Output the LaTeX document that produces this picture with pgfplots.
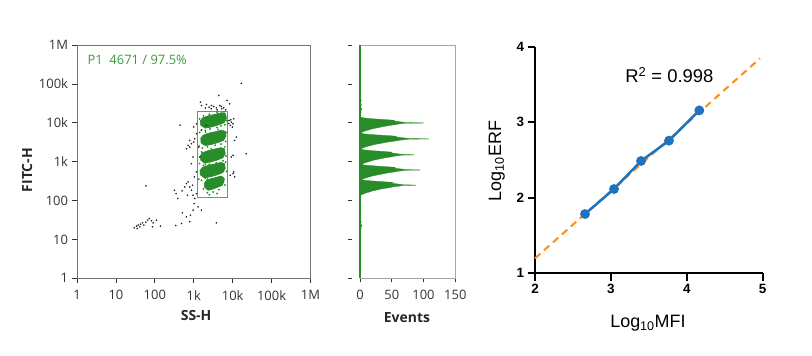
\documentclass[border=0pt]{standalone}
\usepackage{fontspec}
\usepackage{pgfplots}
\pgfplotsset{compat=1.18}
\setmainfont{Open Sans}
\newfontfamily\osans{Open Sans}
\newfontfamily\arial{Liberation Sans}
\definecolor{fcgreen}{RGB}{40,140,40}
\definecolor{gatecol}{RGB}{80,170,80}
\definecolor{ptxt}{RGB}{60,155,60}
\definecolor{lblue}{RGB}{31,114,190}
\definecolor{lorange}{RGB}{255,140,26}
\begin{document}
\begin{tikzpicture}
\path[use as bounding box] (0,0) rectangle (812bp,-356bp);
% ---------------- scatter panel ----------------
\begin{axis}[
  at={(77bp,-278.3bp)}, anchor=south west, scale only axis,
  width=233.5bp, height=233.3bp,
  xmin=0, xmax=6, ymin=0, ymax=6,
  xtick={0,1,2,3,4,5,6}, ytick={0,1,2,3,4,5,6},
  xticklabels={1,10,100,1k,10k,100k,1M},
  yticklabels={1,10,100,1k,10k,100k,1M},
  tick align=outside, tick pos=left, major tick length=4.5bp,
  axis line style={black!55, line width=0.8bp},
  tick style={black!80, line width=0.7bp},
  ticklabel style={font=\osans\fontsize{13}{13}\selectfont, text=black!80},
  xticklabel style={yshift=-4bp},
  yticklabel style={xshift=-1bp},
  xlabel={SS-H}, ylabel={FITC-H},
  label style={font=\osans\bfseries\fontsize{14}{14}\selectfont, text=black!85},
  xlabel style={at={(axis description cs:0.51,-0.1616)}, anchor=center},
  ylabel style={at={(axis description cs:-0.214,0.464)}, anchor=center},
  clip=false,
]
% green blobs (dense gated events)
\addplot[fill=fcgreen, draw=fcgreen, line width=0.6bp] coordinates {(3.18,3.93)(3.17,4.05)(3.23,4.13)(3.38,4.18)(3.55,4.22)(3.72,4.26)(3.82,4.23)(3.84,4.11)(3.78,4.00)(3.62,3.94)(3.45,3.89)(3.28,3.86)};
\addplot[fill=fcgreen, draw=fcgreen, line width=0.6bp] coordinates {(3.19,3.47)(3.18,3.60)(3.24,3.68)(3.38,3.73)(3.55,3.77)(3.71,3.81)(3.81,3.78)(3.83,3.66)(3.77,3.55)(3.62,3.49)(3.45,3.44)(3.28,3.41)};
\addplot[fill=fcgreen, draw=fcgreen, line width=0.6bp] coordinates {(3.18,3.03)(3.17,3.15)(3.22,3.23)(3.36,3.28)(3.53,3.32)(3.69,3.36)(3.79,3.33)(3.81,3.21)(3.75,3.10)(3.60,3.04)(3.43,2.99)(3.26,2.96)};
\addplot[fill=fcgreen, draw=fcgreen, line width=0.6bp] coordinates {(3.17,2.65)(3.16,2.77)(3.22,2.85)(3.36,2.90)(3.53,2.94)(3.69,2.98)(3.79,2.95)(3.81,2.83)(3.75,2.72)(3.60,2.66)(3.43,2.61)(3.26,2.58)};
\addplot[fill=fcgreen, draw=fcgreen, line width=0.6bp] coordinates {(3.28,2.33)(3.27,2.44)(3.32,2.51)(3.43,2.56)(3.56,2.59)(3.69,2.63)(3.76,2.60)(3.78,2.49)(3.73,2.39)(3.61,2.34)(3.48,2.29)(3.36,2.26)};
% green scattered events
\addplot[only marks, mark=*, mark size=0.7bp, fcgreen] coordinates {
(3.15,3.75)(3.20,3.82)(3.30,3.80)(3.42,3.84)(3.60,3.88)(3.70,3.92)(3.80,3.95)(3.85,4.05)(3.78,4.28)(3.60,4.27)(3.40,4.22)(3.25,4.18)(3.15,4.10)
(3.14,3.40)(3.22,3.35)(3.35,3.38)(3.55,3.42)(3.70,3.45)(3.82,3.52)(3.84,3.75)(3.62,3.83)(3.30,3.76)
(3.15,2.95)(3.25,2.90)(3.40,2.93)(3.58,2.97)(3.75,3.02)(3.83,3.15)(3.80,3.38)(3.45,3.33)(3.20,3.25)
(3.13,2.55)(3.20,2.52)(3.35,2.55)(3.55,2.57)(3.70,2.60)(3.84,2.75)(3.82,2.99)(3.30,2.93)
(3.25,2.30)(3.35,2.20)(3.50,2.22)(3.65,2.28)(3.80,2.40)(3.78,2.55)(3.30,2.58)(3.40,2.15)(3.60,2.18)};
% black (ungated) events
\addplot[only marks, mark=*, mark size=0.6bp, black!85] coordinates {
(1.470,1.299)(1.530,1.342)(1.573,1.368)(1.632,1.393)(1.684,1.427)(1.718,1.368)(1.769,1.444)(1.812,1.496)(1.855,1.538)(1.915,1.479)(1.957,1.427)(2.043,1.496)(2.145,1.342)(1.940,1.325)(1.547,1.282)(1.615,1.325)
(1.769,2.376)(2.538,1.359)(2.650,3.940)(2.504,2.265)(2.547,2.179)(2.590,2.051)(2.701,2.248)(2.769,2.350)(2.812,2.436)(2.855,2.479)(2.897,2.350)(2.838,2.137)(2.940,2.265)(2.983,2.137)(3.009,1.923)(2.983,1.752)(2.915,1.624)(2.812,1.581)(2.709,1.684)(2.684,1.410)(2.897,1.453)(3.111,1.838)(3.197,1.752)(3.026,2.051)(3.068,2.179)(2.966,2.393)(3.017,2.607)(3.068,2.735)(2.940,2.949)(2.983,3.120)(2.897,3.376)(2.812,3.333)(2.855,3.419)(2.940,3.462)(3.000,3.504)(3.026,3.590)(2.897,3.547)(3.068,3.718)(3.000,3.889)(3.068,3.974)
(3.171,4.530)(3.197,4.444)(3.325,4.470)(3.393,4.402)(3.453,4.444)(3.513,4.419)(3.581,4.385)(3.641,4.701)(3.667,4.444)(3.709,4.419)(3.769,4.385)(3.821,4.333)(3.855,4.573)(3.923,4.487)(3.45,4.36)(3.60,4.33)(3.72,4.36)(3.30,4.38)
(3.906,4.060)(3.966,4.017)(4.009,3.974)(3.940,3.932)(3.991,3.889)(4.026,4.103)(3.95,4.08)(3.90,3.98)(4.094,3.632)(4.051,3.547)(4.009,3.162)(3.966,3.120)(4.026,2.735)(4.009,2.692)(4.051,2.607)(3.940,2.650)
(4.222,5.017)(4.350,3.205)(3.581,1.427)(3.154,3.120)(3.128,3.376)(3.197,3.803)(3.325,3.932)};
% gate P1
\addplot[gatecol, line width=1.2bp] coordinates {(3.095,2.07)(3.864,2.07)(3.864,4.28)(3.095,4.28)(3.095,2.07)};
\node[anchor=west, text=ptxt, font=\osans\fontsize{13}{13}\selectfont] at (axis description cs:0.03,0.938) {P1\ \ 4671 / 97.5\%};
\end{axis}
% ---------------- histogram panel ----------------
\begin{axis}[
  at={(360bp,-278.3bp)}, anchor=south west, scale only axis,
  width=95.3bp, height=233.3bp,
  xmin=0, xmax=150, ymin=0, ymax=6,
  xtick={0,50,100,150}, xticklabels={0,50,100,150},
  ytick={0,1,2,3,4,5,6}, yticklabels={},
  tick align=outside, tick pos=left, major tick length=4bp,
  axis line style={black!35, line width=0.8bp},
  tick style={black!80, line width=0.7bp},
  ytick style={xshift=-8bp},
  ticklabel style={font=\osans\fontsize{13}{13}\selectfont, text=black!80},
  xticklabel style={yshift=-4bp},
  xlabel={Events},
  label style={font=\osans\bfseries\fontsize{14}{14}\selectfont, text=black!85},
  xlabel style={at={(axis description cs:0.493,-0.17)}, anchor=center},
  clip=false,
]
\addplot[fill=fcgreen, draw=fcgreen, line width=0.3bp] coordinates {
(0,2.14)(2,2.145)(4,2.16)(7,2.18)(10,2.20)(15,2.22)(18,2.24)(24,2.26)(29,2.28)(34,2.30)(40,2.315)(46,2.33)(50,2.345)(56,2.36)(64,2.375)(68,2.388)(88,2.392)(88,2.398)(70,2.405)(62,2.42)(55,2.435)(48,2.45)(52,2.465)(40,2.48)(22,2.50)(7,2.52)(2,2.535)
(4,2.55)(7,2.57)(11,2.59)(15,2.61)(19,2.63)(25,2.65)(31,2.67)(37,2.69)(42,2.705)(48,2.72)(54,2.735)(58,2.75)(66,2.765)(71,2.778)(94,2.782)(94,2.788)(75,2.795)(66,2.81)(58,2.825)(52,2.84)(55,2.855)(42,2.87)(24,2.89)(8,2.91)(2,2.925)
(4,2.94)(6,2.96)(10,2.98)(14,3.00)(18,3.02)(22,3.04)(28,3.06)(34,3.08)(38,3.095)(44,3.11)(50,3.125)(54,3.14)(61,3.155)(65,3.168)(85,3.172)(85,3.178)(68,3.185)(61,3.20)(54,3.215)(48,3.23)(50,3.245)(39,3.26)(21,3.28)(7,3.30)(2,3.32)
(2,3.335)(4,3.35)(7,3.37)(11,3.39)(16,3.41)(20,3.43)(26,3.45)(33,3.47)(39,3.49)(44,3.505)(51,3.52)(57,3.535)(62,3.55)(70,3.565)(76,3.578)(108,3.582)(108,3.588)(79,3.595)(70,3.61)(62,3.625)(54,3.64)(57,3.655)(44,3.67)(24,3.69)(8,3.71)(2,3.73)
(2,3.745)(4,3.76)(6,3.78)(10,3.80)(15,3.82)(18,3.84)(24,3.86)(30,3.88)(36,3.90)(41,3.915)(46,3.93)(53,3.945)(58,3.96)(65,3.975)(70,3.988)(100,3.992)(100,3.998)(75,4.005)(66,4.02)(58,4.035)(51,4.05)(54,4.065)(41,4.08)(22,4.10)(8,4.12)(2,4.14)(0,4.15)};
\addplot[fill=black!70, draw=black!70, line width=0.3bp] coordinates {(0,4.25)(2,4.27)(1,4.31)(3,4.35)(1,4.40)(2,4.46)(1,4.52)(2,4.58)(0,4.62)};
\addplot[fill=black!70, draw=black!70, line width=0.3bp] coordinates {(0,1.24)(2,1.27)(1,1.31)(3,1.35)(1,1.40)(2,1.45)(0,1.50)};
\addplot[fcgreen, line width=1.6bp] coordinates {(0,0)(0,6)};
\end{axis}
% ---------------- calibration panel ----------------
\begin{axis}[
  at={(535bp,-273.3bp)}, anchor=south west, scale only axis,
  width=227.7bp, height=226.6bp,
  xmin=2, xmax=5, ymin=1, ymax=4,
  axis lines=left, axis line style={-, line width=2bp, black},
  xtick={2,3,4,5}, xticklabels={2,3,4,5},
  ytick={1,2,3,4}, yticklabels={1,2,3,4},
  tick align=outside, major tick length=7.5bp,
  tick style={line width=2bp, black},
  ticklabel style={font=\arial\bfseries\fontsize{13.5}{13.5}\selectfont},
  xlabel={Log\textsubscript{10}MFI}, ylabel={Log\textsubscript{10}ERF},
  label style={font=\arial\fontsize{18}{18}\selectfont},
  xlabel style={at={(axis description cs:0.496,-0.219)}, anchor=center},
  ylabel style={at={(axis description cs:-0.168,0.496)}, anchor=center},
  clip=false,
]
\addplot[lorange, line width=2bp, dash pattern=on 7bp off 5bp] coordinates {(2,1.198)(4.964,3.845)};
\addplot[lblue, line width=2.5bp, mark=*, mark size=3.6bp] coordinates {(2.659,1.785)(3.041,2.116)(3.397,2.487)(3.765,2.756)(4.165,3.157)};
\node[font=\arial\fontsize{18.5}{18.5}\selectfont] at (axis cs:3.77,3.62) {R\textsuperscript{2} = 0.998};
\end{axis}
\end{tikzpicture}
\end{document}
